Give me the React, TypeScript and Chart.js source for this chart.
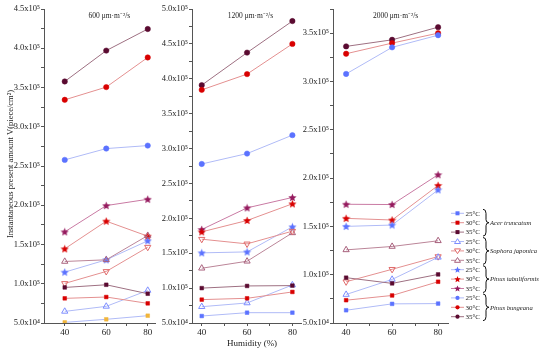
import React, { useEffect, useRef } from 'react';
import { Chart, registerables } from 'chart.js';
Chart.register(...registerables);

// ---------------- data ----------------
const humidity = [40, 60, 80];
const panelTitles = ['600 μm·m⁻²/s', '1200 μm·m⁻²/s', '2000 μm·m⁻²/s'];
const temps = ['25°C', '30°C', '35°C'];
const species = ['Acer truncatum', 'Sophora japonica', 'Pinus tabuliformis', 'Pinus bungeana'];

// 600 μm·m⁻²/s
const acer25_600 = [50800, 54700, 59300];
const acer30_600 = [81400, 83100, 75000];
const acer35_600 = [95300, 98700, 87300];
const soph25_600 = [64800, 71200, 91500];
const soph30_600 = [100400, 115700, 146600];
const soph35_600 = [128400, 130500, 161400];
const pinT25_600 = [114800, 130500, 154700];
const pinT30_600 = [144500, 179700, 160600];
const pinT35_600 = [166100, 199600, 207600];
const pinB25_600 = [257800, 272200, 276000];
const pinB30_600 = [334300, 350500, 388300];
const pinB35_600 = [357700, 397000, 424500];

// 1200 μm·m⁻²/s
const acer25_1200 = [60000, 64800, 64800];
const acer30_1200 = [83500, 85400, 94500];
const acer35_1200 = [100000, 103100, 103600];
const soph25_1200 = [73400, 78700, 104500];
const soph30_1200 = [170100, 163400, 181600];
const soph35_1200 = [128500, 138500, 179200];
const pinT25_1200 = [150500, 151900, 187800];
const pinT30_1200 = [180600, 196900, 220800];
const pinT35_1200 = [184000, 215000, 229900];
const pinB25_1200 = [277900, 292800, 319200];
const pinB30_1200 = [384100, 406700, 450000];
const pinB35_1200 = [390900, 437500, 482700];

// 2000 μm·m⁻²/s
const acer25_2000 = [63200, 69800, 70100];
const acer30_2000 = [73600, 78500, 92700];
const acer35_2000 = [96900, 91000, 100300];
const soph25_2000 = [79500, 95100, 118000];
const soph30_2000 = [92700, 105600, 118750];
const soph35_2000 = [125700, 129200, 135100];
const pinT25_2000 = [150000, 151400, 187800];
const pinT30_2000 = [158300, 156600, 192400];
const pinT35_2000 = [172900, 172600, 203500];
const pinB25_2000 = [307800, 335300, 347900];
const pinB30_2000 = [328700, 339700, 350000];
const pinB35_2000 = [336300, 343100, 356200];

const yMin = [50000, 50000, 50000];
const yMax = [450000, 500000, 375000];

// ---------------- styles ----------------
const SERIF = "'Liberation Serif', 'Times New Roman', serif";
const BLUE = '#5b72ff', BLUE_L = '#b0bbf7';
const RED = '#d80000', RED_L = '#e49090';
const MAROON = '#5a0a30', MAROON_L = '#9e7082';
const MAG = '#951a5e', MAG_L = '#c97aa3';
const MAUVE = '#a8607c', MAUVE_L = '#bb8598';
const YELLOW = '#f1b53a';

type Spec = { style: string; color: string; line: string; hollow?: boolean; rot?: number; r: number };
const SPECS: Spec[] = [
  { style: 'rect', color: BLUE, line: BLUE_L, r: 2.6 },
  { style: 'rect', color: RED, line: RED_L, r: 2.6 },
  { style: 'rect', color: MAROON, line: MAROON_L, r: 2.6 },
  { style: 'triangle', color: '#7d8dff', line: BLUE_L, hollow: true, r: 3.6 },
  { style: 'triangle', color: '#e06a6a', line: RED_L, hollow: true, rot: 180, r: 3.6 },
  { style: 'triangle', color: MAUVE, line: MAUVE_L, hollow: true, r: 3.6 },
  { style: 'star', color: BLUE, line: BLUE_L, r: 4 },
  { style: 'star', color: RED, line: RED_L, r: 4 },
  { style: 'star', color: MAG, line: MAG_L, r: 4 },
  { style: 'circle', color: BLUE, line: BLUE_L, r: 2.7 },
  { style: 'circle', color: RED, line: RED_L, r: 2.7 },
  { style: 'circle', color: MAROON, line: MAROON_L, r: 2.7 },
];

function drawStar(ctx: CanvasRenderingContext2D, cx: number, cy: number, R: number, color: string) {
  const r = R * 0.45;
  ctx.beginPath();
  for (let i = 0; i < 10; i++) {
    const rad = i % 2 === 0 ? R : r;
    const a = -Math.PI / 2 + (i * Math.PI) / 5;
    const x = cx + rad * Math.cos(a);
    const y = cy + rad * Math.sin(a);
    if (i) ctx.lineTo(x, y); else ctx.moveTo(x, y);
  }
  ctx.closePath();
  ctx.fillStyle = color;
  ctx.fill();
}

const starCache: Record<string, HTMLCanvasElement> = {};
function starImg(color: string) {
  if (starCache[color]) return starCache[color];
  const c = document.createElement('canvas');
  c.width = 9; c.height = 9;
  const ctx = c.getContext('2d')!;
  drawStar(ctx, 4.5, 4.8, 4.3, color);
  starCache[color] = c;
  return c;
}

function fmt(v: number) {
  if (v >= 100000) return (v / 100000).toFixed(1) + 'x10⁵';
  return (v / 10000).toFixed(1) + 'x10⁴';
}

function makeDatasets(vals: number[][], panel: number) {
  return SPECS.map((s, i) => {
    let pc = s.color;
    if (panel === 0 && i === 0) pc = YELLOW;
    return {
      label: species[Math.floor(i / 3)] + ' ' + temps[i % 3],
      data: humidity.map((h, j) => ({ x: h, y: vals[i][j] })),
      showLine: true,
      borderColor: s.line,
      borderWidth: 1,
      pointStyle: s.style === 'star' ? starImg(pc) : s.style,
      pointRotation: s.rot || 0,
      pointRadius: s.r,
      pointBackgroundColor: s.hollow ? 'rgba(255,255,255,0)' : pc,
      pointBorderColor: pc,
      pointBorderWidth: s.hollow ? 1 : 0.5,
      tension: 0,
      fill: false,
    };
  });
}

const PANEL_VALUES = [
  [acer25_600, acer30_600, acer35_600, soph25_600, soph30_600, soph35_600, pinT25_600, pinT30_600, pinT35_600, pinB25_600, pinB30_600, pinB35_600],
  [acer25_1200, acer30_1200, acer35_1200, soph25_1200, soph30_1200, soph35_1200, pinT25_1200, pinT30_1200, pinT35_1200, pinB25_1200, pinB30_1200, pinB35_1200],
  [acer25_2000, acer30_2000, acer35_2000, soph25_2000, soph30_2000, soph35_2000, pinT25_2000, pinT30_2000, pinT35_2000, pinB25_2000, pinB30_2000, pinB35_2000],
];

// layout of the three canvases (page px)
const LAYOUT = [
  { left: 0, width: 160, axisW: 44, padR: 3, xMin: 30, xMax: 83.5 },
  { left: 158, width: 148, axisW: 34, padR: 3, xMin: 35.7, xMax: 83.8 },
  { left: 300, width: 250, axisW: 33, padR: 102, xMin: 34.3, xMax: 84.3 },
];

function Panel({ idx }: { idx: number }) {
  const ref = useRef<HTMLCanvasElement>(null);
  useEffect(() => {
    const L = LAYOUT[idx];
    const deco = {
      id: 'deco' + idx,
      afterDraw(chart: any) {
        const ctx: CanvasRenderingContext2D = chart.ctx;
        const xs = chart.scales.x;
        ctx.save();
        ctx.fillStyle = '#222';
        ctx.textAlign = 'center';
        ctx.textBaseline = 'middle';
        ctx.font = `7.5px ${SERIF}`;
        ctx.fillText(panelTitles[idx], xs.getPixelForValue(61.5), 16);
        if (idx === 0) {
          ctx.save();
          ctx.translate(11, 164);
          ctx.rotate(-Math.PI / 2);
          ctx.font = `8.5px ${SERIF}`;
          ctx.fillText('Instantaneous present amount V(piece/cm²)', 0, 0);
          ctx.restore();
        }
        if (idx === 1) {
          ctx.font = `9px ${SERIF}`;
          ctx.fillText('Humidity (%)', 252 - L.left, 344);
        }
        if (idx === 2) {
          const ox = -L.left;
          const y0 = 213.3, dy = 9.4;
          for (let i = 0; i < 12; i++) {
            const s = SPECS[i];
            const y = y0 + i * dy;
            ctx.strokeStyle = s.line;
            ctx.lineWidth = 1;
            ctx.beginPath();
            ctx.moveTo(451 + ox, y);
            ctx.lineTo(464 + ox, y);
            ctx.stroke();
            const cx = 457.5 + ox;
            if (s.style === 'rect') {
              ctx.fillStyle = s.color;
              ctx.fillRect(cx - 2, y - 2, 4, 4);
            } else if (s.style === 'circle') {
              ctx.fillStyle = s.color;
              ctx.beginPath(); ctx.arc(cx, y, 2.1, 0, Math.PI * 2); ctx.fill();
            } else if (s.style === 'star') {
              drawStar(ctx, cx, y + 0.3, 3.4, s.color);
            } else {
              ctx.strokeStyle = s.color;
              ctx.fillStyle = '#fff';
              ctx.beginPath();
              if (s.rot) {
                ctx.moveTo(cx - 3, y - 2); ctx.lineTo(cx + 3, y - 2); ctx.lineTo(cx, y + 2.8);
              } else {
                ctx.moveTo(cx - 3, y + 2); ctx.lineTo(cx + 3, y + 2); ctx.lineTo(cx, y - 2.8);
              }
              ctx.closePath(); ctx.fill(); ctx.stroke();
            }
            ctx.fillStyle = '#222';
            ctx.textAlign = 'left';
            ctx.font = `7px ${SERIF}`;
            ctx.fillText(temps[i % 3], 465.5 + ox, y + 0.5);
          }
          for (let g = 0; g < 4; g++) {
            const top = y0 + g * 3 * dy - 4;
            const mid = y0 + (g * 3 + 1) * dy;
            const bot = y0 + (g * 3 + 2) * dy + 4;
            const x0 = 483 + ox, xm = 486 + ox, x1 = 489 + ox;
            ctx.strokeStyle = '#111';
            ctx.lineWidth = 1;
            ctx.beginPath();
            ctx.moveTo(x0, top);
            ctx.quadraticCurveTo(xm, top, xm, top + 4);
            ctx.lineTo(xm, mid - 3);
            ctx.quadraticCurveTo(xm, mid, x1, mid);
            ctx.quadraticCurveTo(xm, mid, xm, mid + 3);
            ctx.lineTo(xm, bot - 4);
            ctx.quadraticCurveTo(xm, bot, x0, bot);
            ctx.stroke();
            ctx.fillStyle = '#222';
            ctx.font = `italic 6.6px ${SERIF}`;
            ctx.textAlign = 'left';
            ctx.fillText(species[g], 490 + ox, mid + 0.5);
          }
        }
        ctx.restore();
      },
    };
    const chart = new Chart(ref.current!, {
      type: 'scatter',
      data: { datasets: makeDatasets(PANEL_VALUES[idx], idx) as any },
      options: {
        animation: false,
        responsive: false,
        devicePixelRatio: 1,
        layout: { padding: { top: 9, right: L.padR, left: 0, bottom: 0 } },
        plugins: { legend: { display: false }, tooltip: { enabled: false }, title: { display: false } },
        scales: {
          x: {
            type: 'linear',
            min: L.xMin,
            max: L.xMax,
            afterBuildTicks: (s: any) => { s.ticks = [40, 50, 60, 70, 80].map((v) => ({ value: v })); },
            afterFit: (s: any) => { s.height = 31; },
            ticks: {
              callback: (v: any) => (Number(v) % 20 === 0 ? String(v) : ''),
              font: { family: SERIF, size: 9 },
              color: '#222',
              padding: 1,
              autoSkip: false,
              maxRotation: 0,
            },
            grid: { drawOnChartArea: false, tickLength: 3, color: '#555' },
            border: { color: '#555', width: 1 },
          },
          y: {
            type: 'linear',
            min: yMin[idx],
            max: yMax[idx],
            afterBuildTicks: (s: any) => {
              const t = [];
              for (let v = yMin[idx]; v <= yMax[idx] + 1; v += 25000) t.push({ value: v });
              s.ticks = t;
            },
            afterFit: (s: any) => { s.width = L.axisW; },
            ticks: {
              callback: (v: any) => (Number(v) % 50000 === 0 ? fmt(Number(v)) : ''),
              font: { family: SERIF, size: 8.5 },
              color: '#222',
              padding: 1,
              autoSkip: false,
            },
            grid: { drawOnChartArea: false, tickLength: 3, color: '#555' },
            border: { color: '#555', width: 1 },
          },
        },
      },
      plugins: [deco],
    });
    return () => chart.destroy();
  }, [idx]);
  const L = LAYOUT[idx];
  return (
    <canvas
      ref={ref}
      width={L.width}
      height={354}
      style={{ position: 'absolute', left: L.left, top: 0, width: L.width, height: 354 }}
    />
  );
}

export default function App() {
  return (
    <div style={{ position: 'fixed', left: 0, top: 0, width: 550, height: 354, background: '#fff', overflow: 'hidden' }}>
      <Panel idx={0} />
      <Panel idx={1} />
      <Panel idx={2} />
    </div>
  );
}
